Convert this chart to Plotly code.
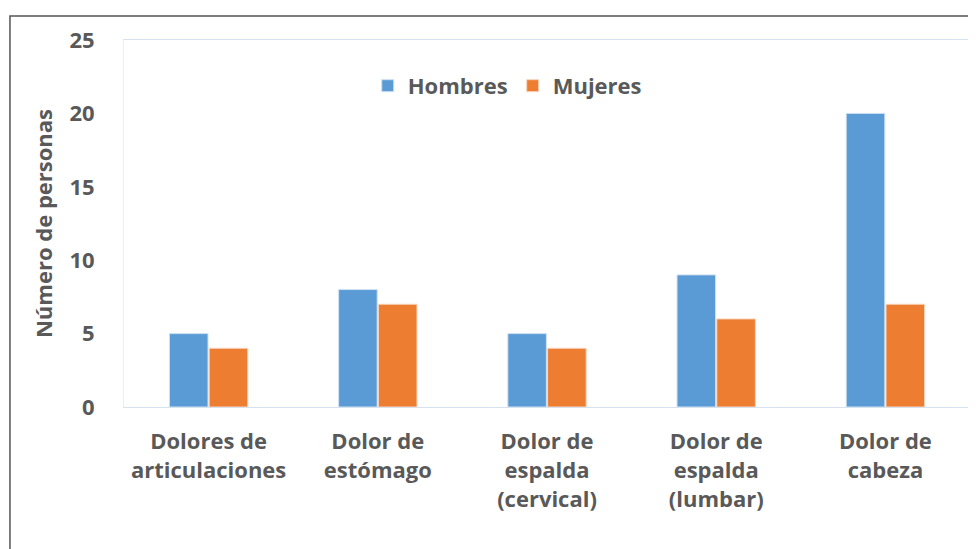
import plotly.graph_objects as go

categories = ["Dolores de<br>articulaciones", "Dolor de<br>estómago", "Dolor de<br>espalda<br>(cervical)",
              "Dolor de<br>espalda<br>(lumbar)", "Dolor de<br>cabeza"]
hombres = [5, 8, 5, 9, 20]
mujeres = [4, 7, 4, 6, 7]
y_ticks = [0, 5, 10, 15, 20, 25]

FONT = "Open Sans"
GRAY = "#595959"
FS = 22

fig = go.Figure()
fig.add_trace(go.Bar(name="Hombres", x=categories, y=hombres,
                     marker=dict(color="#5B9BD5", line=dict(color="#cfe0f2", width=1))))
fig.add_trace(go.Bar(name="Mujeres", x=categories, y=mujeres,
                     marker=dict(color="#ED7D31", line=dict(color="#f8d5bd", width=1))))

fig.update_layout(
    width=968, height=541,
    margin=dict(l=116, r=6, t=32, b=142),
    paper_bgcolor="white", plot_bgcolor="white",
    barmode="group", bargap=0.53, bargroupgap=0.03,
    font=dict(family=FONT, color=GRAY, size=FS),
    legend=dict(orientation="h", x=0.453, xanchor="center", y=0.875, yanchor="middle",
                font=dict(family=FONT, size=FS, color=GRAY, weight="bold"),
                itemwidth=30, tracegroupgap=0, bgcolor="rgba(0,0,0,0)"),
    xaxis=dict(showline=True, linecolor="#d6e2f0", linewidth=1, mirror=True,
               tickfont=dict(family=FONT, size=FS, color=GRAY, weight="bold"),
               ticks="", showgrid=False, automargin=False, ticklabelstandoff=15),
    yaxis=dict(range=[0, 25], tickvals=y_ticks, showgrid=False, zeroline=False,
               showline=True, linecolor="#e8eff8", linewidth=1, mirror=True,
               tickfont=dict(family=FONT, size=FS, color=GRAY, weight="bold"),
               ticks="", ticklabelstandoff=24,
               title=dict(text="Número de personas", standoff=10,
                          font=dict(family=FONT, size=FS, color=GRAY, weight="bold")),
               automargin=False),
    shapes=[dict(type="rect", xref="paper", yref="paper",
                 x0=-0.1348, x1=1.2, y0=-0.6, y1=1.0654,
                 line=dict(color="#555555", width=1.5), fillcolor="rgba(0,0,0,0)",
                 layer="below")],
)

fig.write_html("out.html")
